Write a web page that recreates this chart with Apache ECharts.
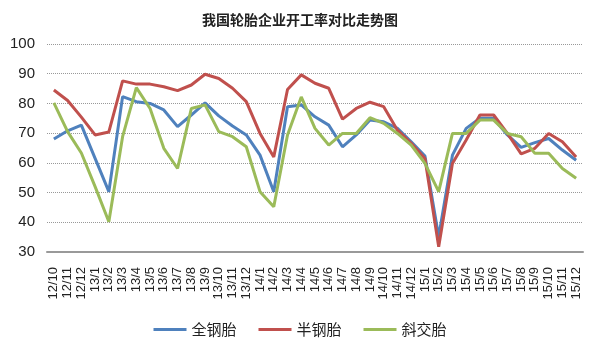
<!DOCTYPE html>
<html><head><meta charset="utf-8">
<script src="https://cdn.jsdelivr.net/npm/echarts@6/dist/echarts.min.js"></script>
<style>html,body{margin:0;padding:0;background:#fff}#c{width:600px;height:360px}</style>
</head><body><div id="c"></div>
<script>
const categories = ['12/10','12/11','12/12',
 '13/1','13/2','13/3','13/4','13/5','13/6','13/7','13/8','13/9','13/10','13/11','13/12',
 '14/1','14/2','14/3','14/4','14/5','14/6','14/7','14/8','14/9','14/10','14/11','14/12',
 '15/1','15/2','15/3','15/4','15/5','15/6','15/7','15/8','15/9','15/10','15/11','15/12'];
const allSteel = [68,70.8,72.7,61.5,50.3,82.3,80.6,80,77.8,72.2,76.1,80.2,75.8,72.4,69.4,
 62.6,50.3,78.9,79.5,75.5,72.7,65.4,69.4,74.4,73.8,71.6,67.1,62.3,35.1,62.6,71.6,75,75,69.4,65.2,66.8,68.2,64.3,60.9];
const semiSteel = [84.5,81,75.4,69.4,70.4,87.6,86.5,86.5,85.6,84.3,86.2,89.8,88.4,85.1,80.6,
 69.9,62,84.7,89.6,86.8,85.1,74.7,78.3,80.4,78.9,71,66.6,61.5,31.8,59.8,67.7,76.1,76.1,69.9,63,64.9,69.9,67.1,62];
const bias = [80.2,70.5,63.3,52,40.2,68.8,85.3,78.3,64.9,58.1,78.3,79.5,70.5,68.8,65.4,
 50.3,45.2,69.4,82.2,71.6,66,69.9,69.9,75.2,73.3,69.9,66,59.8,50.3,69.9,69.9,74.4,74.4,69.9,68.8,63.2,63.2,58.1,54.8];
const seriesNames = ['全钢胎','半钢胎','斜交胎'];
const colors = ['#4F81BD','#C0504D','#9BBB59'];
const yMin = 30, yMax = 100, yStep = 10;

const chart = echarts.init(document.getElementById('c'));
const mk = (name, data, color) => ({
  name, type: 'line', data, symbol: 'none', smooth: false,
  lineStyle: { width: 3, color }, itemStyle: { color }
});
chart.setOption({
  animation: false,
  title: { text: '我国轮胎企业开工率对比走势图', left: 'center', top: 8,
    textStyle: { fontSize: 14, fontWeight: 'bold', color: '#222', fontFamily: 'Noto Sans CJK SC' } },
  grid: { left: 47, right: 17, top: 44, bottom: 108 },
  legend: { bottom: 18, left: 'center', icon: 'rect', itemWidth: 33, itemHeight: 3, itemGap: 22,
    textStyle: { fontSize: 15, color: '#222', fontFamily: 'Noto Sans CJK SC' }, data: seriesNames },
  xAxis: { type: 'category', data: categories, boundaryGap: true,
    axisLine: { lineStyle: { color: '#999', width: 2 } }, axisTick: { show: false },
    axisLabel: { interval: 0, rotate: 90, fontSize: 13, color: '#222', fontFamily: 'Liberation Sans', margin: 15 } },
  yAxis: { type: 'value', min: yMin, max: yMax, interval: yStep,
    axisLine: { show: false }, axisTick: { show: false },
    axisLabel: { fontSize: 15, color: '#222', fontFamily: 'Liberation Sans', margin: 12 },
    splitLine: { lineStyle: { type: 'dotted', color: '#999', width: 1 } } },
  series: [mk(seriesNames[0], allSteel, colors[0]), mk(seriesNames[1], semiSteel, colors[1]), mk(seriesNames[2], bias, colors[2])]
});
</script></body></html>
